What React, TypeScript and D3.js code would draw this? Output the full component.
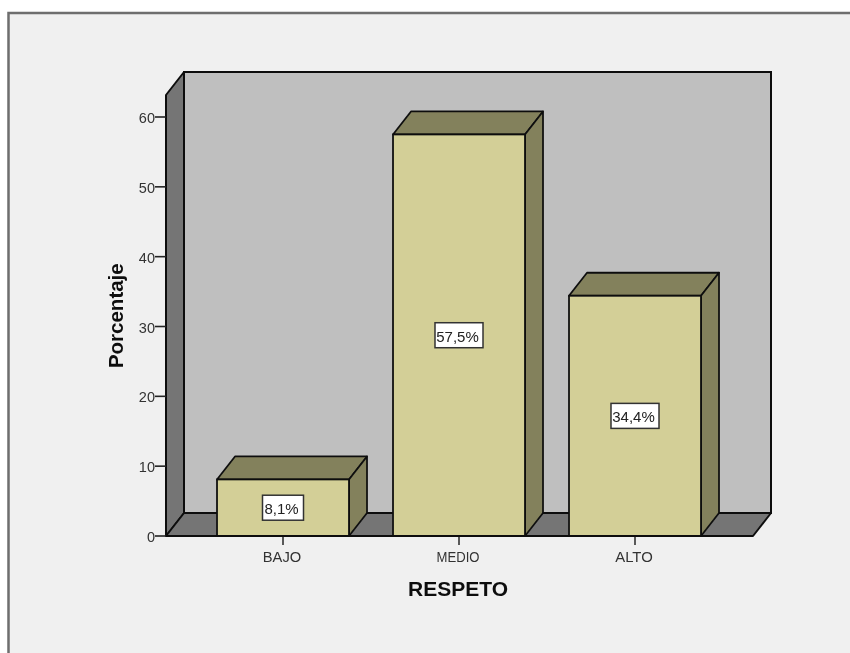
import React from "react";
import * as d3 from "d3";

const categories = ["BAJO", "MEDIO", "ALTO"];
const percentages = [8.1, 57.5, 34.4];
const percentLabels = ["8,1%", "57,5%", "34,4%"];
const yTicks = [0, 10, 20, 30, 40, 50, 60];
const xTitle = "RESPETO";
const yTitle = "Porcentaje";

const W = 850, H = 653;
const floorL = 166, floorR = 753, y0 = 536;
const dx = 18, dy = -23;
const font = "'Liberation Sans', Arial, sans-serif";
const ink = "#111";
const xLabelLengths: Record<string, number> = { BAJO: 38.5, MEDIO: 43, ALTO: 37.5 };

export default function App() {
  const y = d3.scaleLinear().domain([0, 60]).range([y0, 117]);
  const x = d3.scaleBand<string>().domain(categories).range([195, 723]).paddingInner(0.25).paddingOuter(0.125);
  const plotTop = 95;
  const path = (pts: [number, number][]) => d3.line()(pts) + "Z";
  return (
    <svg width={W} height={H} style={{ position: "absolute", left: 0, top: 0, background: "#fff" }} fontFamily={font}>
      <defs>
        <filter id="soft" x="0" y="0" width="100%" height="100%"><feGaussianBlur stdDeviation="0.4" /></filter>
      </defs>
      <g filter="url(#soft)">
        <rect x={0} y={0} width={W} height={H} fill="#fff" />
        <rect x={8.5} y={13} width={W + 20} height={H + 20} fill="#f0f0f0" stroke="#6e6e6e" strokeWidth={2.5} />
        {/* back wall */}
        <rect x={floorL + dx} y={plotTop + dy} width={floorR - floorL} height={y0 - plotTop} fill="#bfbfbf" stroke={ink} strokeWidth={2} />
        {/* left wall */}
        <path d={path([[floorL, plotTop], [floorL + dx, plotTop + dy], [floorL + dx, y0 + dy], [floorL, y0]])} fill="#757575" stroke={ink} strokeWidth={2} strokeLinejoin="round" />
        {/* floor */}
        <path d={path([[floorL, y0], [floorL + dx, y0 + dy], [floorR + dx, y0 + dy], [floorR, y0]])} fill="#757575" stroke={ink} strokeWidth={2} strokeLinejoin="round" />
        {/* y axis */}
        {yTicks.map((t) => (
          <g key={t}>
            <line x1={floorL - 11} x2={floorL} y1={y(t)} y2={y(t)} stroke="#222" strokeWidth={1.6} />
            <text x={155} y={y(t) + 6} textAnchor="end" fontSize={14.5} fill="#333">{t}</text>
          </g>
        ))}
        {/* bars */}
        {categories.map((c, i) => {
          const l = x(c)!, r = l + x.bandwidth(), t = y(percentages[i]);
          const mid = (l + r) / 2, labelY = (t + y0) / 2;
          const bw = percentLabels[i].length > 4 ? 48 : 41;
          return (
            <g key={c}>
              <path d={path([[l, t], [l + dx, t + dy], [r + dx, t + dy], [r, t]])} fill="#83815c" stroke={ink} strokeWidth={1.8} strokeLinejoin="round" />
              <path d={path([[r, t], [r + dx, t + dy], [r + dx, y0 + dy], [r, y0]])} fill="#83815c" stroke={ink} strokeWidth={1.8} strokeLinejoin="round" />
              <rect x={l} y={t} width={r - l} height={y0 - t} fill="#d3cf97" stroke={ink} strokeWidth={1.8} />
              <rect x={mid - bw / 2} y={labelY - 12.5} width={bw} height={25} fill="#fff" stroke="#333" strokeWidth={1.5} />
              <text x={mid - 1.5} y={labelY + 6.5} textAnchor="middle" fontSize={15} fill="#222">{percentLabels[i]}</text>
              <line x1={mid} x2={mid} y1={y0} y2={y0 + 9} stroke="#333" strokeWidth={1.6} />
              <text x={mid - 1} y={561.5} textAnchor="middle" fontSize={15} fill="#333" textLength={xLabelLengths[c]} lengthAdjust="spacingAndGlyphs">{c}</text>
            </g>
          );
        })}
        <line x1={floorL} x2={floorR} y1={y0} y2={y0} stroke={ink} strokeWidth={2} />
        <text x={458} y={596} textAnchor="middle" fontSize={21} fontWeight={700} fill="#111">{xTitle}</text>
        <text transform="translate(123,315.7) rotate(-90)" textAnchor="middle" fontSize={20.5} fontWeight={700} fill="#111">{yTitle}</text>
      </g>
    </svg>
  );
}
